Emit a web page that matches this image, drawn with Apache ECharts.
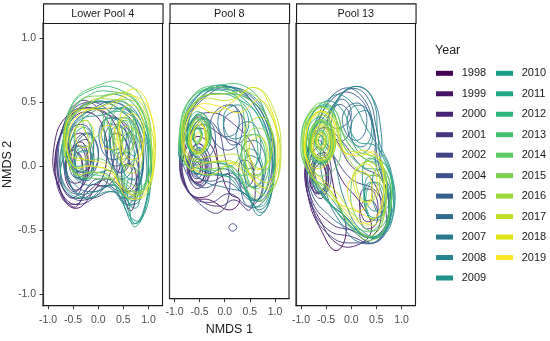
<!DOCTYPE html>
<html>
<head>
<meta charset="utf-8">
<script src="https://cdn.jsdelivr.net/npm/echarts@6/dist/echarts.min.js"></script>
<style>html,body{margin:0;padding:0;background:#fff;}#c{width:550px;height:341px;}</style>
</head>
<body>
<div id="c"></div>
<script>
// ---------- data ----------
const years = ['1998','1999','2000','2001','2002','2004','2005','2006','2007','2008','2009','2010','2011','2012','2013','2014','2015','2016','2017','2018','2019'];
const panelNames = ['Lower Pool 4','Pool 8','Pool 13'];
const xTicks = [-1, -0.5, 0, 0.5, 1];
const yTicks = [-1, -0.5, 0, 0.5, 1];
// density contour rings: per year, list of closed rings [x1,y1,x2,y2,...] in NMDS units
const lowerPool4 = [
/*1998*/[[-.55,.35,-.2,.42,.1,.3,.15,0,-.1,-.2,-.45,-.33,-.75,-.2,-.85,.1],[-.5,.15,-.3,.18,-.2,0,-.3,-.15,-.5,-.18,-.65,-.02],[.5,0,.7,0,.75,-.2,.65,-.35,.5,-.2]],
/*1999*/[[-.6,.4,-.1,.45,.3,.35,.45,.05,.2,-.15,-.15,-.15,-.45,-.3,-.8,-.15,-.88,.15],[-.55,.2,-.3,.25,-.15,.05,-.35,-.12,-.6,-.1],[-.48,.08,-.38,.1,-.32,0,-.42,-.05,-.5,-.02]],
/*2000*/[[-.7,.3,-.3,.45,.2,.4,.6,.3,.8,0,.6,-.2,.2,-.1,-.2,-.2,-.5,-.32,-.8,-.1],[-.6,.1,-.35,.15,-.25,-.05,-.45,-.2,-.65,-.1],[.3,.25,.55,.2,.6,0,.4,-.05,.25,.1]],
/*2001*/[[-.75,.25,-.4,.5,0,.45,.3,.2,.2,-.1,-.1,-.25,-.45,-.3,-.72,-.25,-.85,0],[-.5,.3,-.2,.3,-.1,.1,-.3,-.05,-.55,.05],[-.7,.05,-.45,.12,-.3,-.1,-.5,-.25,-.72,-.15]],
/*2002*/[[-.65,.35,-.2,.5,.3,.4,.7,.2,.8,-.1,.6,-.3,.3,-.2,-.1,-.25,-.5,-.25,-.8,-.05],[-.45,.2,-.15,.25,0,.05,-.25,-.1,-.5,-.05],[.4,.1,.6,.05,.65,-.15,.45,-.18]],
/*2004*/[[-.6,.35,-.1,.5,.4,.45,.8,.25,.85,-.1,.55,-.25,.1,-.15,-.3,-.25,-.65,-.2,-.8,.05],[-.45,.15,-.2,.2,-.1,0,-.35,-.1],[.2,.3,.5,.3,.6,.1,.35,0,.15,.1]],
/*2005*/[[-.7,.2,-.4,.45,.1,.5,.55,.45,.85,.2,.8,-.15,.45,-.2,0,-.1,-.4,-.22,-.72,-.1],[.1,.35,.45,.35,.55,.15,.3,.05,.05,.15],[-.55,.1,-.3,.15,-.25,-.05,-.5,-.08]],
/*2006*/[[-.55,.3,-.1,.45,.35,.5,.75,.35,.9,0,.65,-.25,.3,-.15,-.1,-.2,-.45,-.15,-.7,.05],[.2,.2,.45,.25,.6,.05,.4,-.05,.2,.05],[-.45,.15,-.2,.25,0,.1,-.15,-.05,-.4,-.05]],
/*2007*/[[-.6,.2,-.3,.4,.2,.45,.7,.4,.95,.1,.85,-.25,.55,-.3,.2,-.15,-.2,-.25,-.55,-.15],[.3,.3,.6,.25,.7,0,.45,-.1,.25,.1],[-.4,.1,-.15,.1,-.15,-.1,-.4,-.08]],
/*2008*/[[-.5,.25,0,.45,.5,.5,.9,.3,1,-.05,.9,-.35,.7,-.45,.5,-.3,.2,-.1,-.2,-.15,-.5,-.05],[.5,.1,.75,.05,.8,-.2,.65,-.3,.5,-.15],[.1,.35,.4,.35,.45,.15,.15,.15]],
/*2009*/[[-.7,.1,-.4,.35,.1,.4,.6,.45,.95,.25,1.05,-.1,.85,-.42,.6,-.38,.35,-.15,-.05,-.2,-.45,-.2],[.55,.25,.8,.2,.85,-.05,.6,-.1,.45,.1],[-.45,.1,-.2,.15,-.15,-.05,-.4,-.1]],
/*2010*/[[-.6,.3,-.1,.5,.45,.55,.9,.35,1.05,0,.95,-.3,.75,-.45,.55,-.3,.3,-.05,-.1,-.05,-.5,0],[.3,.35,.65,.35,.75,.1,.5,0,.25,.15],[.6,-.1,.8,-.15,.78,-.32,.62,-.3]],
/*2011*/[[-.75,0,-.55,.35,-.1,.5,.4,.45,.85,.3,1,-.05,.9,-.38,.7,-.47,.55,-.25,.2,-.2,-.2,-.25,-.6,-.2],[.55,0,.8,-.05,.82,-.25,.6,-.25],[-.55,.2,-.25,.3,-.1,.1,-.35,0,-.6,.05]],
/*2012*/[[-.55,.45,-.1,.6,.4,.6,.85,.45,1,.1,.85,-.2,.5,-.2,.1,-.05,-.3,-.1,-.65,.1],[.2,.4,.55,.4,.65,.2,.4,.1,.15,.2],[-.45,.3,-.2,.35,-.15,.15,-.4,.12]],
/*2013*/[[-.6,.35,-.2,.55,.3,.58,.75,.5,1,.2,.95,-.15,.6,-.25,.2,-.1,-.2,-.05,-.55,.05],[.3,.4,.6,.45,.75,.25,.55,.1,.3,.2],[.4,.33,.55,.35,.6,.25,.45,.2]],
/*2014*/[[-.5,.5,0,.63,.5,.65,.9,.5,1.05,.15,.9,-.15,.5,-.1,.1,.05,-.3,.05,-.6,.25],[.25,.45,.55,.5,.7,.3,.45,.2,.2,.3],[-.3,.4,0,.45,.1,.3,-.15,.22]],
/*2015*/[[-.7,.2,-.4,.5,.1,.55,.6,.55,.95,.35,1.05,0,.8,-.2,.4,-.1,0,-.1,-.45,-.05],[.35,.3,.6,.35,.7,.15,.45,.05,.3,.15]],
/*2016*/[[-.6,.3,-.2,.5,.3,.52,.8,.48,1.05,.2,1,-.15,.65,-.2,.3,-.05,-.1,0,-.5,0],[.4,.35,.7,.35,.8,.1,.55,0,.35,.15],[.5,.25,.65,.25,.68,.15,.52,.12]],
/*2017*/[[-.65,.3,-.3,.45,.2,.55,.7,.55,1.05,.3,1.1,-.05,.85,-.25,.45,-.15,0,-.05,-.5,-.05],[-.55,.25,-.3,.3,-.2,.1,-.45,.05],[.5,.3,.8,.25,.85,0,.6,-.05,.45,.1]],
/*2018*/[[-.55,.4,-.1,.45,.3,.5,.75,.6,1.05,.4,1.12,.05,.9,-.2,.55,-.2,.2,0,-.2,.05,-.6,.1],[.5,.45,.8,.45,.9,.15,.65,.05,.45,.2],[-.45,.3,-.2,.35,-.1,.2,-.35,.15]],
/*2019*/[[-.6,.25,-.3,.42,.2,.45,.6,.55,1,.45,1.1,.1,.95,-.2,.6,-.25,.25,-.05,-.15,0,-.5,0],[.45,.35,.75,.4,.9,.2,.7,0,.45,.1],[.1,.3,.3,.3,.35,.15,.1,.15]]
];
const pool8 = [
/*1998*/[[-.85,0,-.6,.2,-.3,.15,-.1,-.05,.1,-.25,.3,-.3,.1,-.38,-.3,-.3,-.6,-.28,-.82,-.15],[-.7,-.02,-.55,.08,-.4,0,-.45,-.15,-.62,-.15],[-.62,-.04,-.54,0,-.48,-.06,-.56,-.1]],
/*1999*/[[-.88,.05,-.65,.25,-.35,.25,-.15,.05,-.2,-.2,-.45,-.28,-.75,-.22],[-.72,0,-.55,.1,-.38,.02,-.45,-.14,-.65,-.14],[-.63,-.02,-.52,.03,-.48,-.06,-.58,-.09]],
/*2000*/[[-.8,.1,-.5,.3,0,.2,.4,.1,.6,-.15,.5,-.38,.2,-.3,-.1,-.35,-.5,-.3,-.78,-.18],[-.75,0,-.55,.15,-.3,.05,-.35,-.15,-.6,-.2],[-.66,-.03,-.55,.05,-.44,-.03,-.5,-.12,-.62,-.12]],
/*2001*/[[-.9,0,-.7,.3,-.3,.4,.2,.3,.6,.1,.75,-.2,.5,-.35,.1,-.25,-.3,-.32,-.7,-.25],[-.7,.05,-.5,.15,-.35,0,-.45,-.17,-.68,-.12],[.3,0,.5,0,.55,-.15,.35,-.2]],
/*2002*/[[-.85,.1,-.6,.35,-.2,.3,0,.05,.1,-.2,-.1,-.4,-.5,-.33,-.8,-.15],[-.68,.02,-.5,.12,-.32,0,-.42,-.18,-.65,-.13],[.08,-.52,.16,-.49,.24,-.52,.16,-.55]],
/*2004*/[[-.75,.3,-.3,.55,.2,.6,.6,.45,.9,.15,.85,-.2,.5,-.3,.1,-.1,-.3,-.15,-.7,-.05],[-.2,.4,.2,.45,.35,.25,.1,.1,-.25,.2]],
/*2005*/[[-.85,.2,-.5,.5,0,.55,.5,.5,.85,.3,.95,-.05,.75,-.3,.4,-.25,0,-.15,-.45,-.2,-.8,-.05],[-.7,.2,-.45,.35,-.2,.25,-.3,.05,-.6,.05],[0,.35,.3,.4,.4,.2,.1,.15]],
/*2006*/[[-.7,.35,-.2,.6,.35,.55,.8,.35,1,0,.8,-.3,.45,-.35,.2,-.1,-.2,-.1,-.6,0],[.4,.15,.7,.15,.8,-.1,.55,-.2,.35,-.05],[-.1,.4,.2,.45,.25,.25,-.05,.22]],
/*2007*/[[-.8,.3,-.4,.55,.1,.58,.6,.5,.95,.2,.95,-.2,.7,-.38,.4,-.25,0,-.2,-.4,-.15,-.75,0],[.3,.3,.6,.3,.7,.05,.45,-.05,.25,.1],[-.6,.25,-.4,.35,-.3,.2,-.5,.1]],
/*2008*/[[-.85,.25,-.5,.55,0,.6,.5,.55,.85,.35,1,0,.85,-.35,.65,-.42,.4,-.2,0,-.05,-.4,-.1,-.8,0],[-.7,.25,-.5,.4,-.3,.3,-.35,.1,-.6,.1],[.45,.05,.7,0,.75,-.25,.55,-.3,.4,-.1]],
/*2009*/[[-.8,.35,-.4,.58,.15,.6,.6,.45,.9,.15,.95,-.2,.75,-.4,.5,-.3,.2,-.05,-.2,0,-.6,.05],[-.65,.25,-.45,.35,-.3,.22,-.45,.1],[0,.4,.35,.45,.45,.25,.1,.2]],
/*2010*/[[-.88,.2,-.6,.5,-.1,.6,.4,.5,.75,.3,.9,0,.7,-.3,.4,-.25,0,-.1,-.45,-.1,-.8,0],[-.75,.22,-.55,.38,-.35,.28,-.4,.1,-.65,.08],[-.65,.22,-.55,.28,-.45,.22,-.55,.15]],
/*2011*/[[-.9,.15,-.65,.45,-.2,.55,.3,.5,.7,.35,.95,.05,.85,-.3,.6,-.35,.3,-.15,-.1,-.1,-.5,-.05,-.85,0],[-.72,.2,-.55,.35,-.38,.25,-.42,.1,-.62,.08],[.45,.1,.7,.05,.72,-.15,.5,-.18]],
/*2012*/[[-.9,.2,-.7,.5,-.2,.58,.3,.5,.6,.25,.6,-.05,.3,-.1,-.1,0,-.5,-.02,-.82,.02],[-.75,.22,-.55,.38,-.35,.28,-.4,.1,-.65,.08],[-.65,.22,-.55,.3,-.45,.22,-.55,.15]],
/*2013*/[[-.85,.3,-.6,.55,-.1,.62,.45,.6,.8,.4,.9,.05,.7,-.2,.35,-.15,0,0,-.4,0,-.8,.05],[-.78,.2,-.6,.4,-.35,.35,-.3,.15,-.55,.05],[.4,.2,.7,.2,.78,-.05,.5,-.1,.35,.05],[-.62,.22,-.55,.28,-.47,.22,-.55,.16]],
/*2014*/[[-.9,.25,-.65,.52,-.2,.6,.2,.55,.4,.3,.3,.05,0,-.05,-.45,-.05,-.8,0],[-.72,.22,-.55,.35,-.38,.25,-.42,.1,-.62,.1],[-.62,.22,-.55,.27,-.48,.22,-.55,.17]],
/*2015*/[[-.85,.15,-.6,.48,-.1,.55,.5,.5,.9,.3,1,-.05,.8,-.3,.5,-.25,.2,-.05,-.3,-.05,-.7,-.05],[-.7,.25,-.5,.38,-.32,.28,-.4,.12,-.62,.12],[.45,.2,.75,.2,.8,-.05,.55,-.12,.4,.05]],
/*2016*/[[-.85,.25,-.55,.5,0,.55,.55,.55,.95,.35,1.1,.05,.9,-.25,.55,-.2,.2,0,-.3,0,-.75,.05],[-.7,.22,-.55,.35,-.35,.28,-.4,.1,-.62,.1],[.5,.25,.8,.25,.9,0,.65,-.1,.45,.05]],
/*2017*/[[-.8,.3,-.5,.5,.1,.5,.6,.6,.95,.45,1.12,.1,.95,-.2,.6,-.15,.3,.05,-.2,.05,-.7,.05],[.45,.3,.8,.35,.95,.1,.7,-.05,.45,.1],[-.72,.2,-.55,.33,-.4,.25,-.45,.1,-.65,.1]],
/*2018*/[[-.85,.3,-.6,.45,-.2,.4,.2,.5,.6,.6,.9,.45,1.05,.15,.9,-.15,.55,-.1,.2,0,-.3,-.1,-.7,0],[-.65,.22,-.5,.32,-.38,.22,-.45,.08,-.62,.1],[.5,.15,.75,.2,.85,0,.6,-.05]],
/*2019*/[[-.8,.2,-.55,.45,-.1,.45,.3,.4,.7,.5,1,.3,1.05,-.05,.8,-.2,.45,-.1,.1,0,-.35,0,-.7,-.05],[-.68,.2,-.5,.3,-.35,.22,-.45,.08,-.62,.08],[-.6,.2,-.52,.24,-.46,.2,-.54,.15]]
];
const pool13 = [
/*1998*/[[-.85,0,-.65,.15,-.45,0,-.3,-.25,-.1,-.5,-.3,-.66,-.6,-.5,-.85,-.25],[-.75,-.05,-.6,.02,-.5,-.1,-.6,-.2,-.72,-.18]],
/*1999*/[[-.9,.05,-.7,.25,-.45,.15,-.2,-.1,.2,-.3,.4,-.5,.1,-.62,-.3,-.6,-.65,-.4,-.88,-.2],[-.8,-.05,-.65,.05,-.5,-.05,-.55,-.2,-.75,-.2]],
/*2000*/[[-.88,.1,-.6,.3,-.3,.2,0,0,.4,-.1,.6,-.35,.4,-.55,0,-.5,-.4,-.45,-.8,-.25],[-.8,0,-.6,.1,-.45,-.05,-.55,-.2,-.78,-.18],[.2,-.2,.45,-.2,.5,-.4,.25,-.42]],
/*2001*/[[-.9,0,-.7,.2,-.4,.1,0,-.1,.5,-.2,.7,-.45,.45,-.6,0,-.55,-.45,-.5,-.8,-.3],[-.75,-.02,-.58,.05,-.45,-.1,-.58,-.25,-.75,-.2],[.2,-.3,.45,-.28,.5,-.45,.25,-.48]],
/*2002*/[[-.85,.15,-.55,.3,-.2,.2,.2,0,.6,-.1,.75,-.35,.5,-.55,0,-.6,-.4,-.55,-.75,-.35],[-.7,.05,-.5,.1,-.4,-.1,-.55,-.22,-.72,-.12]],
/*2004*/[[-.7,.3,-.3,.55,.1,.55,.4,.35,.55,0,.75,-.3,.55,-.55,.1,-.5,-.3,-.35,-.7,-.15,-.85,.05],[-.45,.4,-.2,.48,0,.35,-.15,.2,-.4,.25]],
/*2005*/[[-.6,.4,-.2,.6,.2,.55,.45,.3,.5,0,.7,-.2,.75,-.45,.45,-.6,0,-.5,-.4,-.4,-.8,-.2,-.85,.1],[-.4,.45,-.15,.52,0,.4,-.2,.3,-.4,.32],[-.75,0,-.55,.05,-.5,-.15,-.7,-.2]],
/*2006*/[[-.4,.45,-.05,.6,.3,.55,.5,.3,.6,0,.8,-.25,.65,-.5,.3,-.55,-.1,-.4,-.5,-.25,-.75,0,-.65,.3],[-.1,.45,.2,.48,.3,.3,.1,.2,-.15,.3]],
/*2007*/[[-.3,.5,.05,.62,.4,.55,.6,.25,.6,-.05,.8,-.3,.6,-.55,.2,-.6,-.2,-.45,-.5,-.2,-.6,.15],[0,.45,.3,.45,.4,.25,.2,.15,-.05,.25],[.3,-.15,.55,-.15,.6,-.4,.35,-.4]],
/*2008*/[[-.2,.55,.15,.62,.45,.5,.55,.2,.8,-.05,.85,-.35,.6,-.55,.2,-.5,-.1,-.3,-.3,0,-.4,.3],[.1,.4,.35,.42,.42,.2,.2,.1,0,.25],[.45,-.05,.7,-.05,.75,-.3,.5,-.35]],
/*2009*/[[-.7,.35,-.35,.55,0,.5,.3,.3,.6,.1,.85,-.2,.7,-.5,.3,-.55,-.1,-.4,-.5,-.25,-.85,.05],[.3,.05,.6,0,.7,-.25,.45,-.35,.25,-.2]],
/*2010*/[[-.85,.3,-.55,.5,-.2,.45,.1,.2,.5,.15,.8,-.1,.75,-.45,.4,-.55,0,-.45,-.4,-.25,-.8,-.05],[-.8,.22,-.6,.4,-.4,.3,-.45,.1,-.7,.08],[.3,-.1,.6,-.1,.65,-.35,.35,-.4]],
/*2011*/[[-.9,.2,-.7,.45,-.35,.45,-.1,.2,.3,.05,.7,0,.8,-.3,.55,-.55,.1,-.5,-.3,-.35,-.7,-.15],[-.8,.2,-.62,.35,-.42,.25,-.48,.05,-.72,.05],[.35,-.15,.6,-.15,.62,-.38,.35,-.38]],
/*2012*/[[-.95,.2,-.75,.42,-.4,.45,-.2,.2,.2,0,.6,-.05,.75,-.35,.5,-.55,.05,-.5,-.4,-.3,-.8,-.1],[-.9,.2,-.68,.38,-.4,.3,-.38,.1,-.65,.02],[-.72,.2,-.6,.28,-.5,.2,-.6,.12],[-.82,.2,-.7,.32,-.52,.33,-.42,.22,-.45,.1,-.62,.06,-.78,.1]],
/*2013*/[[-1,.2,-.8,.42,-.45,.45,-.15,.25,.3,.1,.7,0,.78,-.3,.5,-.5,0,-.45,-.4,-.2,-.85,-.05],[-.88,.2,-.65,.36,-.38,.28,-.35,.1,-.62,.03,-.85,.08],[-.75,.2,-.6,.3,-.45,.2,-.6,.1],[-.66,.2,-.6,.24,-.54,.2,-.6,.16]],
/*2014*/[[-.98,.22,-.75,.45,-.4,.42,-.2,.15,-.4,-.05,-.75,-.05],[-.85,.2,-.62,.35,-.4,.25,-.42,.08,-.68,.05],[-.72,.2,-.6,.28,-.48,.2,-.6,.12],[.2,0,.55,.05,.7,-.25,.45,-.5,.1,-.4,0,-.15],[-.66,.2,-.6,.23,-.55,.2,-.6,.17]],
/*2015*/[[-.95,.25,-.7,.48,-.35,.45,-.1,.2,.3,.05,.7,-.05,.75,-.4,.4,-.58,-.05,-.45,-.4,-.2,-.85,-.05],[-.82,.2,-.62,.35,-.42,.28,-.4,.1,-.65,.05],[-.7,.2,-.6,.26,-.5,.2,-.6,.13],[-.9,.22,-.75,.4,-.5,.4,-.35,.22,-.45,.05,-.7,0,-.86,.08]],
/*2016*/[[-.95,.2,-.75,.4,-.4,.4,-.2,.15,.2,-.05,.6,-.1,.65,-.4,.35,-.55,-.05,-.4,-.45,-.2,-.85,-.05],[-.85,.22,-.62,.36,-.38,.28,-.4,.08,-.68,.05],[-.7,.2,-.6,.27,-.5,.2,-.6,.12],[-.78,.2,-.65,.31,-.48,.28,-.44,.14,-.6,.08,-.74,.1]],
/*2017*/[[-.95,.25,-.7,.45,-.35,.4,-.15,.15,.2,.1,.55,.05,.7,-.2,.5,-.45,.1,-.4,-.3,-.2,-.8,0],[-.8,.2,-.6,.33,-.4,.25,-.45,.08,-.68,.06],[.15,0,.45,.02,.55,-.2,.3,-.28,.1,-.15],[-.7,.2,-.6,.26,-.5,.2,-.6,.14]],
/*2018*/[[-.9,.22,-.7,.42,-.4,.38,-.25,.15,.1,.08,.5,.1,.65,-.15,.5,-.4,.1,-.35,-.4,-.25,-.8,-.05],[-.78,.2,-.6,.32,-.42,.24,-.45,.08,-.68,.06],[.1,-.02,.4,0,.5,-.2,.25,-.28,.05,-.15],[-.92,.2,-.75,.38,-.5,.38,-.33,.22,-.42,.05,-.68,-.02,-.88,.06]],
/*2019*/[[-.9,.25,-.65,.42,-.35,.35,-.1,.1,.3,.12,.6,0,.6,-.3,.3,-.45,-.1,-.35,-.5,-.15,-.85,0],[-.75,.2,-.6,.3,-.45,.22,-.5,.08,-.68,.08],[0,-.1,.3,-.05,.4,-.25,.15,-.35,-.05,-.25],[-.67,.2,-.6,.25,-.53,.2,-.6,.15]]
];

// ---------- styles / layout ----------
const palette = ['#440154','#471365','#482475','#463480','#414487','#3B528B','#355F8D','#2F6C8E','#2A788E','#25848E','#21918C','#1E9C89','#22A884','#2FB47C','#44BF70','#5EC962','#7AD151','#9BD93C','#BDDF26','#DFE318','#FDE725'];
const panelData = [lowerPool4, pool8, pool13];
const gridLefts = [43, 169.5, 296];
const gridW = 119.5, gridTop = 23, gridH = 282.7;
const X_MIN = -1.1, X_MAX = 1.28, Y_MIN = -1.09, Y_MAX = 1.117;
const FONT = 'Liberation Sans, Arial, sans-serif';

const fmt = v => (Math.abs(v) < 1e-9 ? '0.0' : v.toFixed(1));

const grids = [], xAxes = [], yAxes = [], series = [], graphics = [];
for (let p = 0; p < 3; p++) {
  grids.push({left: gridLefts[p], top: gridTop, width: gridW, height: gridH, show: true, borderColor: '#1a1a1a', borderWidth: 1.1, backgroundColor: '#fff'});
  xAxes.push({
    type: 'value', gridIndex: p, min: X_MIN, max: X_MAX,
    name: p === 1 ? 'NMDS 1' : '', nameLocation: 'middle', nameGap: 20,
    nameTextStyle: {fontSize: 12.5, color: '#1a1a1a', fontFamily: FONT},
    axisLine: {show: true, onZero: false, lineStyle: {color: '#1a1a1a', width: 1.1}},
    axisTick: {show: true, length: 3.5, customValues: xTicks, lineStyle: {color: '#333', width: 1}},
    axisLabel: {show: true, customValues: xTicks, formatter: fmt, margin: 8.5, fontSize: 10.5, color: '#4d4d4d', fontFamily: FONT},
    splitLine: {show: false}
  });
  yAxes.push({
    type: 'value', gridIndex: p, min: Y_MIN, max: Y_MAX,
    name: p === 0 ? 'NMDS 2' : '', nameLocation: 'middle', nameGap: 26, nameRotate: 90,
    nameTextStyle: {fontSize: 12.5, color: '#1a1a1a', fontFamily: FONT},
    axisLine: {show: true, onZero: false, lineStyle: {color: '#333', width: 1.2}},
    axisTick: {show: p === 0, length: 3.5, customValues: yTicks, lineStyle: {color: '#333', width: 1}},
    axisLabel: {show: p === 0, customValues: yTicks, formatter: fmt, margin: 7, fontSize: 10.5, color: '#4d4d4d', fontFamily: FONT},
    splitLine: {show: false}
  });
  // strip header
  graphics.push({type: 'rect', left: gridLefts[p], top: 3.3, shape: {x: 0, y: 0, width: gridW, height: gridTop - 3.3}, style: {fill: '#fff', stroke: '#1a1a1a', lineWidth: 1.1}, silent: true, z: 10});
  graphics.push({type: 'text', x: gridLefts[p] + gridW / 2, y: 14, style: {text: panelNames[p], fill: '#1a1a1a', font: '10.8px ' + FONT, align: 'center', verticalAlign: 'middle'}, silent: true, z: 11});

  const rings = panelData[p];
  years.forEach((yr, k) => {
    const yrRings = rings[k];
    const color = palette[k];
    series.push({
      type: 'custom', name: yr, xAxisIndex: p, yAxisIndex: p,
      coordinateSystem: 'cartesian2d', silent: true, animation: false,
      itemStyle: {color: color},
      encode: {x: 0, y: 1},
      data: yrRings.map(r => [r[0], r[1]]),
      renderItem: function (params, api) {
        const r = yrRings[params.dataIndex];
        const pts = [];
        for (let i = 0; i < r.length; i += 2) pts.push(api.coord([r[i], r[i + 1]]));
        return {type: 'polygon', shape: {points: pts, smooth: 0.45}, style: {fill: 'none', stroke: color, lineWidth: 0.9}};
      }
    });
  });
}

const legendCommon = {
  orient: 'vertical', icon: 'rect', itemWidth: 17, itemHeight: 5, itemGap: 0.47,
  selectedMode: false, top: 63.3, padding: 0,
  textStyle: {fontSize: 11, color: '#1a1a1a', fontFamily: FONT, lineHeight: 20, padding: [0, 0, 0, 3.7]},
  itemStyle: {borderWidth: 0}
};

const chart = echarts.init(document.getElementById('c'), null, {renderer: 'canvas'});
chart.setOption({
  animation: false,
  backgroundColor: '#fff',
  textStyle: {fontFamily: FONT},
  title: {text: 'Year', left: 435, top: 44.5, padding: 0, textStyle: {fontSize: 12.5, fontWeight: 'normal', color: '#1a1a1a', fontFamily: FONT}},
  legend: [
    Object.assign({}, legendCommon, {left: 436, data: years.slice(0, 11)}),
    Object.assign({}, legendCommon, {left: 496, data: years.slice(11)})
  ],
  grid: grids, xAxis: xAxes, yAxis: yAxes, series: series, graphic: graphics
});
</script>
</body>
</html>
